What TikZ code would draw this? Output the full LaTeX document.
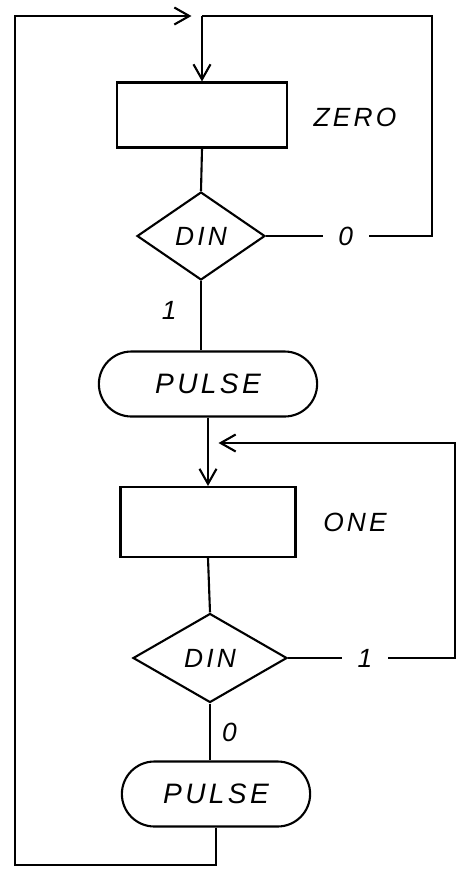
\documentclass[tikz,border=0pt]{standalone}
\usepackage{fontspec}
\setmainfont{Liberation Sans}
\newfontfamily\handfont[LetterSpace=12]{Liberation Sans}
\usetikzlibrary{arrows.meta,shapes.geometric,shapes.misc}

\begin{document}
\begin{tikzpicture}[x=0.02cm,y=-0.02cm,line width=1.2pt,
  hand/.style={font=\fontsize{15}{18}\handfont\itshape},
  state/.style={draw,rectangle,minimum width=3.4cm,minimum height=1.3cm},
  test/.style={draw,diamond,inner sep=0pt,hand},
  pulsebox/.style={draw,rounded rectangle,minimum height=1.3cm,font=\fontsize{16}{18}\handfont\itshape},
  edgelbl/.style={hand,fill=white,inner xsep=9pt},
  barb/.style={-{Straight Barb[length=3mm,width=3.4mm]}}]
  \useasboundingbox (0,0) rectangle (457,873);

  % first state
  \coordinate (top) at (202,16);
  \coordinate (topright) at (432,16);
  \node[state] (zero) at (202,115) {};
  \node[hand] (zerolbl) at (355,117) {ZERO};
  \node[test,minimum width=2.56cm,minimum height=1.76cm] (din1) at (201,236) {DIN};
  \node[pulsebox,minimum width=4.6cm] (pulse1) at (208,384) {PULSE};

  % second state
  \coordinate (join) at (208,443);
  \coordinate (rightedge) at (455,443);
  \coordinate (botleft) at (15,865);
  \node[state,minimum width=3.5cm,minimum height=1.4cm] (one) at (208,522) {};
  \node[hand] (onelbl) at (355,522) {ONE};
  \node[test,minimum width=3.08cm,minimum height=1.78cm] (din2) at (210,658) {DIN};
  \node[pulsebox,minimum width=4.0cm] (pulse2) at (216,794) {PULSE};

  % connectors
  \draw[barb] (top) -- (zero.north);
  \draw (zero.south) -- (din1.north);
  \draw (din1.east) -- node[edgelbl,pos=0.48] (zeroedge) {0} (din1.east -| topright) -- (topright) -- (top);
  \draw (din1.south) -- node[hand,left=10pt,pos=0.42] (oneedge1) {1} (din1.south |- pulse1.north);
  \draw[barb] (pulse1.south) -- (pulse1.south |- one.north);
  \draw[barb,shorten >=6pt] (din2.east) -- node[edgelbl,pos=0.46] (oneedge2) {1} (din2.east -| rightedge) -- (rightedge) -- (join);
  \draw (one.south) -- (din2.north);
  \draw (din2.south) -- node[hand,right=3pt,pos=0.5] (zeroedge2) {0} (din2.south |- pulse2.north);
  \draw[barb,shorten >=6pt] (pulse2.south) -- (pulse2.south |- botleft) -- (botleft) -- (botleft |- top) -- (top);
\end{tikzpicture}
\end{document}
